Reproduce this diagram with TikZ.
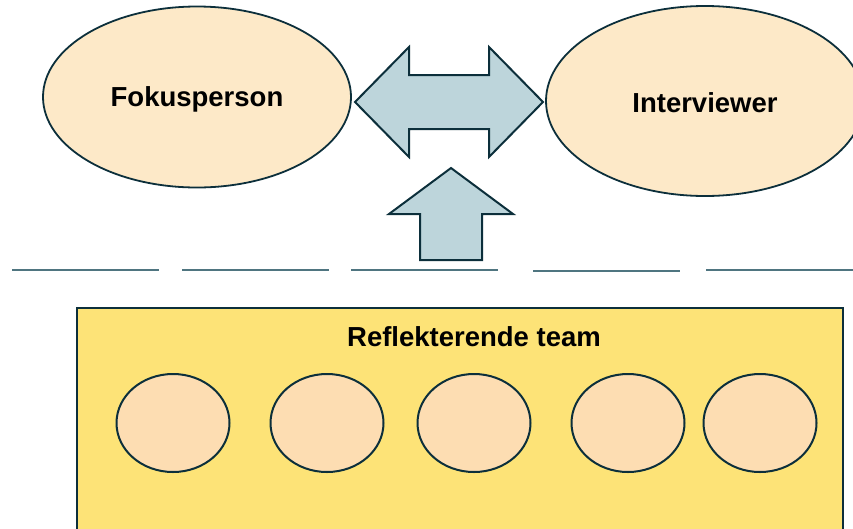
\documentclass[tikz,border=0pt]{standalone}
\usepackage{fontspec}
\setmainfont{Liberation Sans}
\usetikzlibrary{positioning,shapes.geometric}
\definecolor{rand}{HTML}{0C2F3B}
\definecolor{pfirsich}{HTML}{FDE9C8}
\definecolor{apricot}{HTML}{FDDDB2}
\definecolor{gelb}{HTML}{FDE377}
\definecolor{eisblau}{HTML}{BDD5DB}
\definecolor{linie}{HTML}{4F7580}

\begin{document}
\begin{tikzpicture}[
	x=1pt,
	y=-1pt,
	line join=miter
]
\tikzset{
    person/.style = {ellipse, draw=rand, line width=1.8pt, fill=pfirsich, inner sep=0pt,
                     font=\fontsize{27.5}{32}\selectfont\bfseries},
    mitglied/.style = {ellipse, draw=rand, line width=2pt, fill=apricot,
                       minimum width=113, minimum height=98, inner sep=0pt},
    pfeil/.style = {draw=rand, line width=2pt, fill=eisblau},
    trenner/.style = {draw=linie, line width=1.8pt},
}
    \useasboundingbox (0,0) rectangle (853,528);

    % Gespraech oben
    \node (fokus) [person, minimum width=308, minimum height=181] at (197,97) {};
    \node (interviewer) [person, minimum width=318, minimum height=190] at (705,101) {};
    \node (fokustext) [person, draw=none, fill=none] at (197,99) {Fokusperson};
    \node (interviewertext) [person, draw=none, fill=none] at (705,103) {Interviewer};

    \draw[pfeil] (355,102) -- (409,47) -- (409,75) -- (489,75) -- (489,47) -- (543,102)
        -- (489,157) -- (489,129) -- (409,129) -- (409,157) -- cycle;
    \draw[pfeil] (451,168) -- (513,214) -- (482,214) -- (482,260) -- (420,260)
        -- (420,214) -- (389,214) -- cycle;

    % Trennlinie
    \draw[trenner] (12,270) -- (159,270);
    \draw[trenner] (182,270) -- (329,270);
    \draw[trenner] (351,270) -- (498,270);
    \draw[trenner] (533,271) -- (680,271);
    \draw[trenner] (706,270) -- (853,270);

    % Team unten
    \node (team) [draw=rand, line width=1.6pt, fill=gelb, anchor=north west,
        minimum width=766, minimum height=240, inner sep=0pt] at (76,307) {};
    \node (titel) [font=\fontsize{27.5}{32}\selectfont\bfseries] at (474,337) {Reflekterende team};

    \node (m1) [mitglied] at (173,423) {};
    \node (m2) [mitglied] at (327,423) {};
    \node (m3) [mitglied] at (474,423) {};
    \node (m4) [mitglied] at (628,423) {};
    \node (m5) [mitglied] at (760,423) {};
\end{tikzpicture}
\end{document}
